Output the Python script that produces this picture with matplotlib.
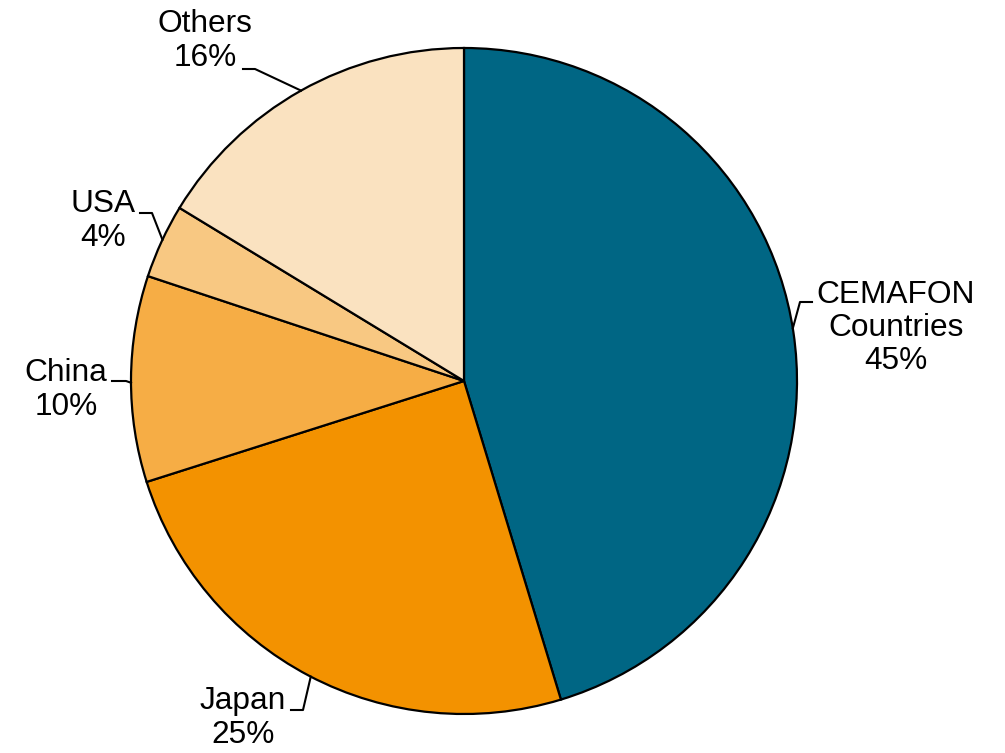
import numpy as np
import matplotlib.pyplot as plt

plt.rcParams['font.family'] = ['Liberation Sans', 'DejaVu Sans']

# data
labels = ["CEMAFON\nCountries", "Japan", "China", "USA", "Others"]
shares = [45.3, 24.8, 10.0, 3.6, 16.3]
colors = ["#006684", "#F39200", "#F6AD45", "#F8C882", "#FAE2C0"]

# label layout (pixels in a 1005x753 picture, pie centre at 464,381, r=333)
cx, cy, R = 464, 381, 333
text_pos = [(896, 328), (243, 718), (66, 390), (103, 221), (205, 41)]
elbow = [((800, 302), (812, 302)), ((291, 710), (303, 710)),
         ((112, 381), (126, 381)), ((140, 213), (152, 213)),
         ((243, 69), (255, 69))]
edge_angle = [9.1, 242.6, 180.3, 154.9, 119.3]


def px(x, y):
    return (x - cx) / R, (cy - y) / R


fig = plt.figure(figsize=(10.05, 7.53), dpi=100)
ax = fig.add_axes([0, 0, 1, 1])
ax.pie(shares, colors=colors, startangle=90, counterclock=False, radius=1,
       wedgeprops=dict(edgecolor="black", linewidth=1.6))
ax.set_aspect("auto")
ax.set_xlim(px(0, 0)[0], px(1005, 0)[0])
ax.set_ylim(px(0, 753)[1], px(0, 0)[1])
ax.axis("off")

for lab, val, tp, el, ang in zip(labels, shares, text_pos, elbow, edge_angle):
    tx, ty = px(*tp)
    ax.text(tx, ty, f"{lab}\n{round(val):.0f}%", ha="center", va="center",
            fontsize=22.8, linespacing=1.15)
    (x0, y0), (x1, y1) = px(*el[0]), px(*el[1])
    a = np.deg2rad(ang)
    ex, ey = np.cos(a), np.sin(a)
    if x0 < 0:
        xs, ys = [x0, x1, ex], [y0, y1, ey]
    else:
        xs, ys = [ex, x0, x1], [ey, y0, y1]
    ax.plot(xs, ys, color="black", linewidth=1.5)

fig.savefig("out.png", dpi=100)
